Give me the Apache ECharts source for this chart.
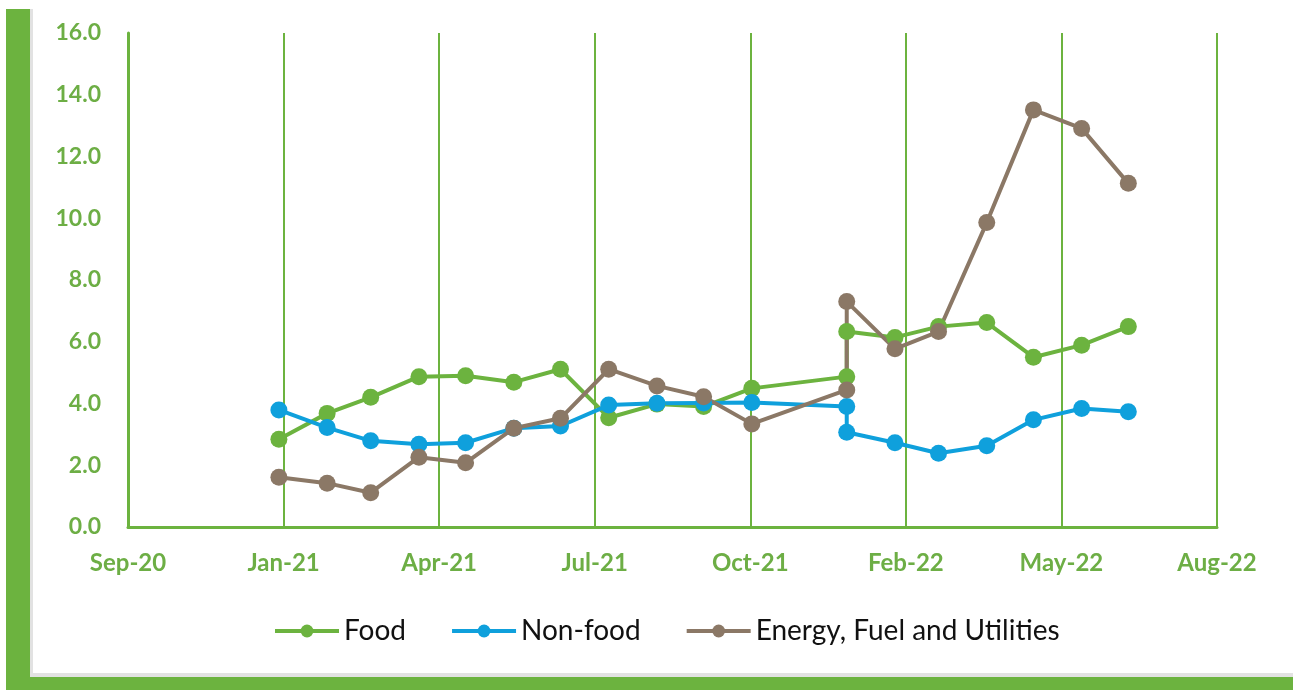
<!DOCTYPE html>
<html>
<head>
<meta charset="utf-8">
<script src="https://cdn.jsdelivr.net/npm/echarts@6/dist/echarts.min.js"></script>
<style>
    html, body {
        margin: 0;
        padding: 0;
        background: #fff;
    }
    #chart {
        position: absolute;
        left: 0;
        top: 0;
        width: 1293px;
        height: 690px;
    }
    .frame {
        position: absolute;
        z-index: 5;
    }
</style>
</head>
<body>
<div id="chart"></div>
<div class="frame" style="left:30px;top:9px;width:3px;height:668px;background:#e2e2e2"></div>
<div class="frame" style="left:30px;top:673px;width:1263px;height:4px;background:#e2e2e2"></div>
<div class="frame" style="left:6px;top:9px;width:24px;height:681px;background:#6cb33f"></div>
<div class="frame" style="left:6px;top:677px;width:1287px;height:13px;background:#6cb33f"></div>
<script>
// monthly readings; Jan-22 appears twice (series break)
const dates = [
    '2021-01-01', '2021-02-01', '2021-03-01', '2021-04-01', '2021-05-01', '2021-06-01',
    '2021-07-01', '2021-08-01', '2021-09-01', '2021-10-01', '2021-11-01',
    '2022-01-01', '2022-01-01', '2022-02-01', '2022-03-01', '2022-04-01',
    '2022-05-01', '2022-06-01', '2022-07-01'
];
const food = [2.84, 3.68, 4.20, 4.87, 4.90, 4.69, 5.11, 3.54, 3.98, 3.90, 4.49,
    4.87, 6.33, 6.14, 6.49, 6.62, 5.50, 5.89, 6.49];
const nonFood = [3.79, 3.22, 2.79, 2.68, 2.73, 3.20, 3.27, 3.95, 4.01, 4.02, 4.03,
    3.90, 3.07, 2.73, 2.39, 2.63, 3.47, 3.84, 3.73];
const energy = [1.61, 1.42, 1.11, 2.26, 2.08, 3.20, 3.52, 5.11, 4.57, 4.22, 3.34,
    4.44, 7.30, 5.77, 6.33, 9.86, 13.51, 12.91, 11.13];
const xTickLabels = ['Sep-20', 'Jan-21', 'Apr-21', 'Jul-21', 'Oct-21', 'Feb-22', 'May-22', 'Aug-22'];

// date axis: days counted from the axis start, ticks every 100 days
const axisStart = Date.UTC(2020, 8, 26);
const dayX = d => (Date.parse(d) - axisStart) / 86400000;
const pairs = vals => vals.map((v, i) => [dayX(dates[i]), v]);

const GREEN = '#6cb33f';
const LABEL = '#6dae45';

const chart = echarts.init(document.getElementById('chart'));

const lineSeries = (name, vals, color) => ({
    name: name,
    type: 'line',
    data: pairs(vals),
    symbol: 'circle',
    symbolSize: 17,
    color: color,
    lineStyle: { width: 4, color: color },
    itemStyle: { color: color },
    emphasis: { disabled: true },
    animation: false
});

chart.setOption({
    animation: false,
    grid: {
        left: 128,
        right: 76,
        top: 33,
        bottom: 163
    },
    legend: {
        left: 268,
        top: 612,
        itemWidth: 64,
        itemHeight: 16,
        itemGap: 44,
        lineStyle: { width: 4 },
        textStyle: {
            fontFamily: 'Lato',
            fontSize: 28,
            color: '#111'
        },
        data: ['Food', 'Non-food', 'Energy, Fuel and Utilities']
    },
    xAxis: {
        type: 'value',
        min: 0,
        max: 700,
        interval: 100,
        axisLine: { show: true, lineStyle: { color: GREEN, width: 3 } },
        axisTick: { show: false },
        splitLine: { show: true, lineStyle: { color: GREEN, width: 2 } },
        axisLabel: {
            margin: 24,
            color: LABEL,
            fontFamily: 'Lato',
            fontWeight: 'bold',
            fontSize: 24,
            formatter: v => xTickLabels[Math.round(v / 100)]
        }
    },
    yAxis: {
        type: 'value',
        min: 0,
        max: 16,
        interval: 2,
        axisLine: { show: true, lineStyle: { color: GREEN, width: 3 } },
        axisTick: { show: false },
        splitLine: { show: false },
        axisLabel: {
            margin: 27,
            color: LABEL,
            fontFamily: 'Lato',
            fontWeight: 'bold',
            fontSize: 23,
            formatter: v => v.toFixed(1)
        }
    },
    series: [
        lineSeries('Food', food, '#6cb33f'),
        lineSeries('Non-food', nonFood, '#0fa0dc'),
        lineSeries('Energy, Fuel and Utilities', energy, '#8b7866')
    ]
});
</script>
</body>
</html>
